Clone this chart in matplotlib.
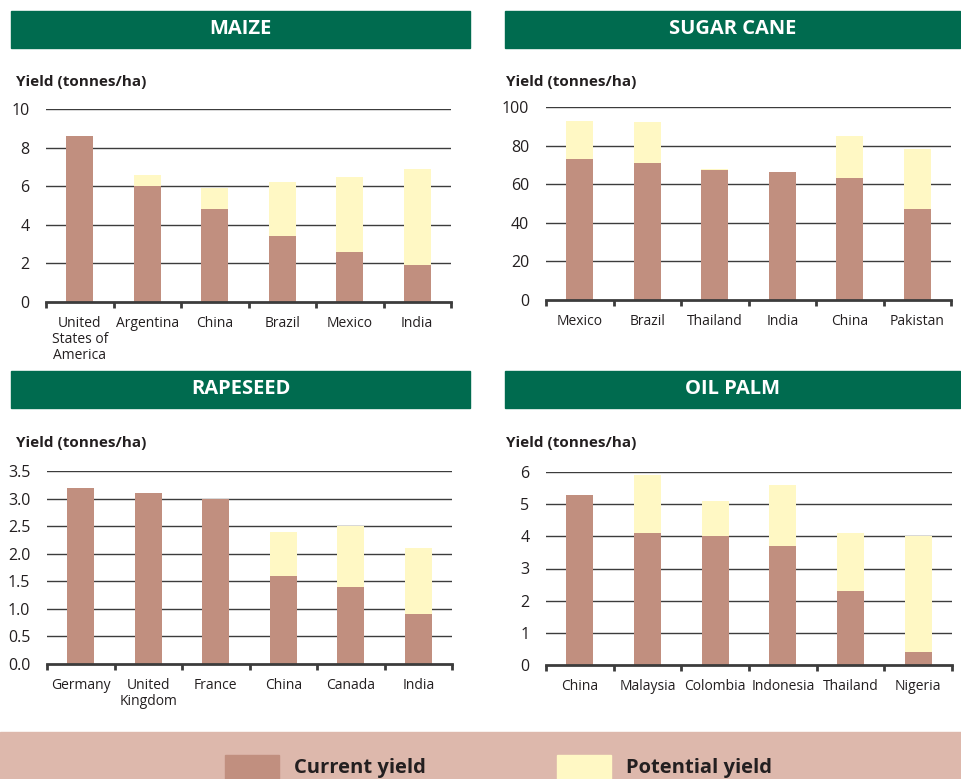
import matplotlib
matplotlib.use("Agg")
import matplotlib.pyplot as plt
from matplotlib.patches import Rectangle
import numpy as np

plt.rcParams['font.family'] = ['Open Sans', 'DejaVu Sans']

# ---------------- data ----------------
maize_countries = ["United\nStates of\nAmerica", "Argentina", "China", "Brazil", "Mexico", "India"]
maize_current = [8.6, 6.0, 4.8, 3.4, 2.6, 1.9]
maize_potential = [8.6, 6.6, 5.9, 6.2, 6.5, 6.9]

sugar_countries = ["Mexico", "Brazil", "Thailand", "India", "China", "Pakistan"]
sugar_current = [73, 71, 67.3, 66.3, 63, 47]
sugar_potential = [92.7, 92.2, 67.8, 66.3, 85, 78.2]

rape_countries = ["Germany", "United\nKingdom", "France", "China", "Canada", "India"]
rape_current = [3.2, 3.1, 3.0, 1.6, 1.4, 0.9]
rape_potential = [3.2, 3.1, 3.0, 2.4, 2.5, 2.1]

palm_countries = ["China", "Malaysia", "Colombia", "Indonesia", "Thailand", "Nigeria"]
palm_current = [5.3, 4.1, 4.0, 3.7, 2.3, 0.4]
palm_potential = [5.3, 5.9, 5.1, 5.6, 4.1, 4.0]

titles = ["MAIZE", "SUGAR CANE", "RAPESEED", "OIL PALM"]
ylabel = "Yield (tonnes/ha)"
legend_labels = ["Current yield", "Potential yield"]

maize_ticks = [0, 2, 4, 6, 8, 10]
sugar_ticks = [0, 20, 40, 60, 80, 100]
rape_ticks = [0.0, 0.5, 1.0, 1.5, 2.0, 2.5, 3.0, 3.5]
palm_ticks = [0, 1, 2, 3, 4, 5, 6]

# ---------------- style ----------------
C_CUR = "#C18F7F"
C_POT = "#FFF8C4"
C_GREEN = "#006B4F"
C_BAND = "#DDB8AC"
C_TEXT = "#231F20"
C_GRID = "#3C3C3C"

W, H = 961, 779
fig = plt.figure(figsize=(W / 100, H / 100), dpi=100)


def px_axes(l, t, r, b):
    return fig.add_axes([l / W, 1 - b / H, (r - l) / W, (b - t) / H])


def fig_rect(l, t, r, b, color):
    fig.patches.append(Rectangle((l / W, 1 - b / H), (r - l) / W, (b - t) / H,
                                 transform=fig.transFigure, color=color, zorder=0))


panels = [
    (maize_countries, maize_current, maize_potential, maize_ticks, "{:g}", (46, 109, 451, 302), (11, 11, 470, 48), (16, 82)),
    (sugar_countries, sugar_current, sugar_potential, sugar_ticks, "{:g}", (546, 107, 951, 300), (505, 11, 960, 48), (506, 82)),
    (rape_countries, rape_current, rape_potential, rape_ticks, "{:.1f}", (47, 471, 452, 664), (11, 371, 470, 408), (16, 443)),
    (palm_countries, palm_current, palm_potential, palm_ticks, "{:g}", (546, 472, 952, 665), (505, 371, 960, 408), (506, 443)),
]

for (cats, cur, pot, ticks, fmt, abox, bbox, lpos), title in zip(panels, titles):
    ax = px_axes(*abox)
    x = np.arange(len(cats))
    cur = np.array(cur, dtype=float)
    pot = np.array(pot, dtype=float)
    ax.bar(x, cur, width=0.4, color=C_CUR, zorder=3)
    ax.bar(x, pot - cur, bottom=cur, width=0.4, color=C_POT, zorder=3)
    ax.set_xlim(-0.5, len(cats) - 0.5)
    ax.set_ylim(0, ticks[-1])
    ax.set_yticks(ticks)
    ax.set_yticklabels([fmt.format(t) for t in ticks])
    for t in ticks[1:]:
        ax.axhline(t, color=C_GRID, lw=1.0, zorder=1)
    for s in ["top", "right", "left"]:
        ax.spines[s].set_visible(False)
    ax.spines["bottom"].set_color(C_GRID)
    ax.spines["bottom"].set_linewidth(2.0)
    ax.spines["bottom"].set_zorder(4)
    ax.set_xticks(x)
    ax.set_xticklabels(cats, fontsize=10, color=C_TEXT, linespacing=1.1)
    ax.set_xticks(np.arange(-0.5, len(cats)), minor=True)
    ax.tick_params(axis="x", which="major", length=0, pad=10)
    ax.tick_params(axis="x", which="minor", length=4, width=2, color=C_GRID, direction="out")
    ax.tick_params(axis="y", length=0, pad=12, labelsize=11.5, labelcolor=C_TEXT)
    # banner
    fig_rect(*bbox, C_GREEN)
    fig.text((bbox[0] + bbox[2]) / 2 / W, 1 - (bbox[1] + bbox[3]) / 2 / H, title,
             ha="center", va="center", color="white", fontsize=14.5, fontweight="bold")
    fig.text(lpos[0] / W, 1 - lpos[1] / H, ylabel, ha="left", va="center",
             fontsize=11, fontweight="bold", color=C_TEXT)

# legend band
fig_rect(0, 732, W, H, C_BAND)
for (l, r, tx), col, lab in zip([(225, 279, 294), (557, 611, 626)], [C_CUR, C_POT], legend_labels):
    fig_rect(l, 755, r, H, col)
    fig.text(tx / W, 1 - 768 / H, lab, ha="left", va="center", fontsize=14.5,
             fontweight="bold", color=C_TEXT)

fig.savefig("out.png", dpi=100, facecolor="white")
